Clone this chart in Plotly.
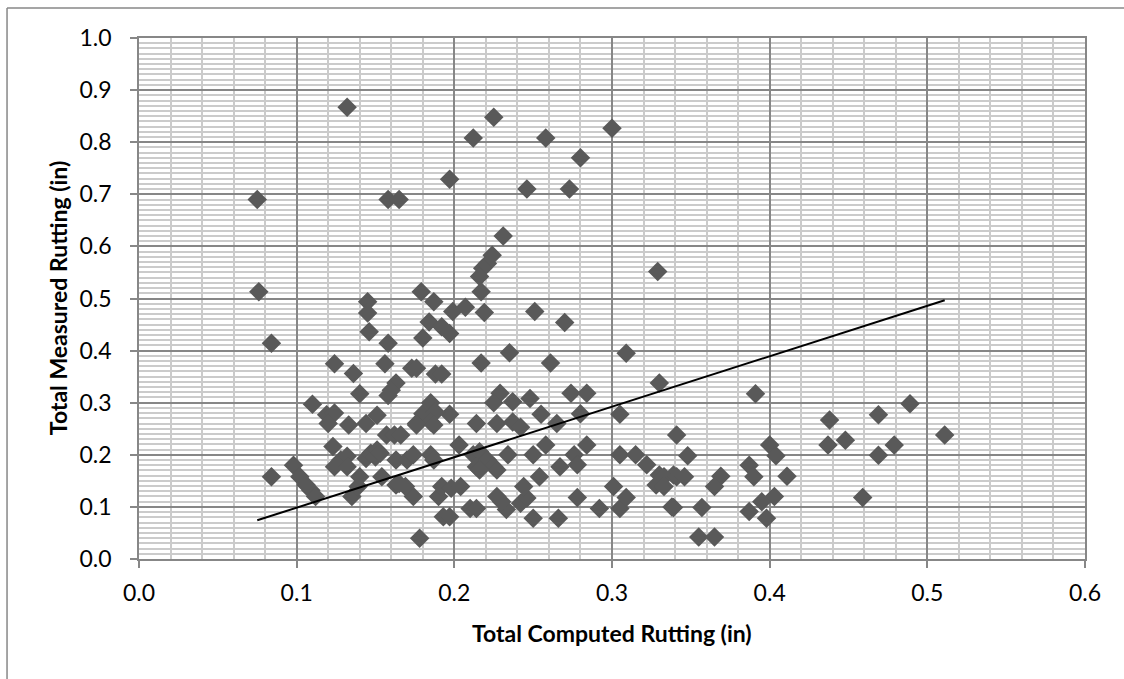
import plotly.graph_objects as go

# Computed vs measured total rutting (in)
computed = [
    0.075, 0.132, 0.158, 0.165, 0.197, 0.212, 0.225, 0.246, 0.258, 0.273, 0.280, 0.300, 0.231,
    0.076, 0.084, 0.329,
    0.224, 0.221, 0.218, 0.216, 0.217, 0.219,
    0.179, 0.187, 0.199, 0.207, 0.251, 0.270,
    0.184, 0.192, 0.197, 0.180, 0.158, 0.235, 0.309,
    0.145, 0.145, 0.146,
    0.124, 0.156, 0.173, 0.176, 0.188, 0.192, 0.217, 0.261,
    0.136, 0.330, 0.163, 0.160, 0.158, 0.140,
    0.274, 0.284, 0.229, 0.248, 0.237, 0.225, 0.185,
    0.110, 0.119, 0.124, 0.151,
    0.197, 0.180, 0.188, 0.255, 0.280, 0.305, 0.391,
    0.214, 0.227, 0.265, 0.237, 0.242, 0.176, 0.185,
    0.157, 0.162, 0.166, 0.120, 0.133, 0.144,
    0.084, 0.098, 0.102, 0.106, 0.109, 0.112,
    0.123, 0.128, 0.124, 0.132, 0.132, 0.135, 0.139, 0.140, 0.144, 0.147, 0.150, 0.151,
    0.154, 0.163, 0.163, 0.153,
    0.178, 0.193, 0.197, 0.210, 0.214, 0.233, 0.250, 0.266, 0.292, 0.305, 0.309, 0.301,
    0.278, 0.242, 0.246, 0.244, 0.254, 0.227, 0.230, 0.190, 0.192, 0.198, 0.204, 0.174,
    0.169, 0.165, 0.170, 0.174, 0.185, 0.187, 0.176, 0.187, 0.203, 0.212, 0.216, 0.221,
    0.225, 0.227, 0.214, 0.216, 0.234, 0.250, 0.258, 0.267, 0.276, 0.278, 0.284, 0.305,
    0.315, 0.322, 0.330, 0.328, 0.339, 0.338, 0.341,
    0.348, 0.333, 0.333, 0.341, 0.346, 0.339, 0.357, 0.355, 0.365, 0.369, 0.365, 0.387,
    0.390, 0.387, 0.395, 0.398, 0.403, 0.400, 0.404, 0.411, 0.438, 0.437, 0.448, 0.469,
    0.489, 0.511, 0.469, 0.479, 0.459,
]
measured = [
    0.690, 0.867, 0.690, 0.690, 0.729, 0.808, 0.848, 0.710, 0.808, 0.710, 0.770, 0.827, 0.620,
    0.513, 0.414, 0.552,
    0.583, 0.567, 0.558, 0.542, 0.513, 0.473,
    0.513, 0.494, 0.475, 0.483, 0.475, 0.454,
    0.455, 0.446, 0.433, 0.424, 0.414, 0.396, 0.395,
    0.494, 0.472, 0.436,
    0.375, 0.375, 0.366, 0.366, 0.355, 0.355, 0.376, 0.376,
    0.356, 0.338, 0.338, 0.324, 0.314, 0.317,
    0.318, 0.318, 0.318, 0.308, 0.302, 0.300, 0.300,
    0.297, 0.277, 0.280, 0.276,
    0.278, 0.279, 0.282, 0.278, 0.279, 0.278, 0.317,
    0.260, 0.260, 0.260, 0.263, 0.253, 0.260, 0.263,
    0.238, 0.238, 0.238, 0.260, 0.257, 0.260,
    0.158, 0.180, 0.158, 0.142, 0.132, 0.120,
    0.216, 0.190, 0.177, 0.197, 0.177, 0.120, 0.139, 0.158, 0.193, 0.203, 0.196, 0.209,
    0.158, 0.142, 0.190, 0.203,
    0.040, 0.081, 0.081, 0.097, 0.097, 0.095, 0.078, 0.078, 0.097, 0.097, 0.118, 0.139,
    0.118, 0.107, 0.117, 0.139, 0.158, 0.120, 0.110, 0.120, 0.139, 0.136, 0.139, 0.120,
    0.139, 0.145, 0.190, 0.200, 0.200, 0.190, 0.257, 0.257, 0.219, 0.200, 0.206, 0.190,
    0.177, 0.171, 0.177, 0.171, 0.200, 0.200, 0.219, 0.177, 0.200, 0.181, 0.219, 0.200,
    0.200, 0.181, 0.161, 0.142, 0.161, 0.100, 0.238,
    0.198, 0.158, 0.139, 0.158, 0.158, 0.099, 0.099, 0.042, 0.042, 0.159, 0.139, 0.180,
    0.158, 0.091, 0.110, 0.078, 0.120, 0.219, 0.198, 0.159, 0.267, 0.219, 0.228, 0.277,
    0.298, 0.238, 0.199, 0.219, 0.118,
]

# Linear trendline drawn across the span of computed values
trend_slope = 0.969
trend_intercept = 0.0016
trend_x = [min(computed), max(computed)]
trend_y = [trend_intercept + trend_slope * v for v in trend_x]

x_ticks = [0.0, 0.1, 0.2, 0.3, 0.4, 0.5, 0.6]
y_ticks = [0.0, 0.1, 0.2, 0.3, 0.4, 0.5, 0.6, 0.7, 0.8, 0.9, 1.0]

FONT = "Lato, Open Sans, sans-serif"
MAJOR = "#878787"
MINOR = "#cbcbcb"

fig = go.Figure()
fig.add_trace(go.Scatter(
    x=computed, y=measured, mode="markers",
    marker=dict(symbol="diamond", size=15, color="#595959", line=dict(width=0)),
    showlegend=False,
))
fig.add_trace(go.Scatter(
    x=trend_x, y=trend_y, mode="lines",
    line=dict(color="black", width=2),
    showlegend=False,
))

fig.update_layout(
    width=1124, height=679,
    margin=dict(l=139, r=39, t=38, b=120),
    paper_bgcolor="white", plot_bgcolor="white",
    font=dict(family=FONT, size=23, color="black"),
    xaxis=dict(
        range=[0, 0.6], tickvals=x_ticks, ticktext=[f"{v:.1f}" for v in x_ticks],
        showgrid=True, gridcolor=MAJOR, gridwidth=1.5,
        minor=dict(dtick=0.02, showgrid=True, gridcolor=MINOR, gridwidth=1.5),
        showline=True, linecolor=MAJOR, linewidth=1.5, mirror=True,
        ticks="outside", ticklen=7, tickcolor=MAJOR, tickwidth=1.5,
        ticklabelstandoff=6, zeroline=False,
    ),
    yaxis=dict(
        range=[0, 1.0], tickvals=y_ticks, ticktext=[f"{v:.1f}" for v in y_ticks],
        showgrid=True, gridcolor=MAJOR, gridwidth=1.5,
        minor=dict(dtick=0.01, showgrid=True, gridcolor=MINOR, gridwidth=1.5),
        showline=True, linecolor=MAJOR, linewidth=1.5, mirror=True,
        ticks="outside", ticklen=7, tickcolor=MAJOR, tickwidth=1.5,
        ticklabelstandoff=14, zeroline=False,
    ),
    annotations=[
        dict(text="<b>Total Computed Rutting (in)</b>", xref="paper", yref="paper",
             x=0.5, y=-0.142, xanchor="center", yanchor="middle", showarrow=False,
             font=dict(family=FONT, size=23)),
        dict(text="<b>Total Measured Rutting (in)</b>", xref="paper", yref="paper",
             x=-0.086, y=0.5, xanchor="center", yanchor="middle", showarrow=False,
             textangle=-90, font=dict(family=FONT, size=23)),
    ],
    shapes=[
        dict(type="line", xref="paper", yref="paper",
             x0=-0.1395, x1=1.05, y0=1.0576, y1=1.0576,
             line=dict(color=MAJOR, width=1.5)),
        dict(type="line", xref="paper", yref="paper",
             x0=-0.1395, x1=-0.1395, y0=1.0576, y1=-0.25,
             line=dict(color=MAJOR, width=1.5)),
    ],
)

fig.write_html("out.html")
